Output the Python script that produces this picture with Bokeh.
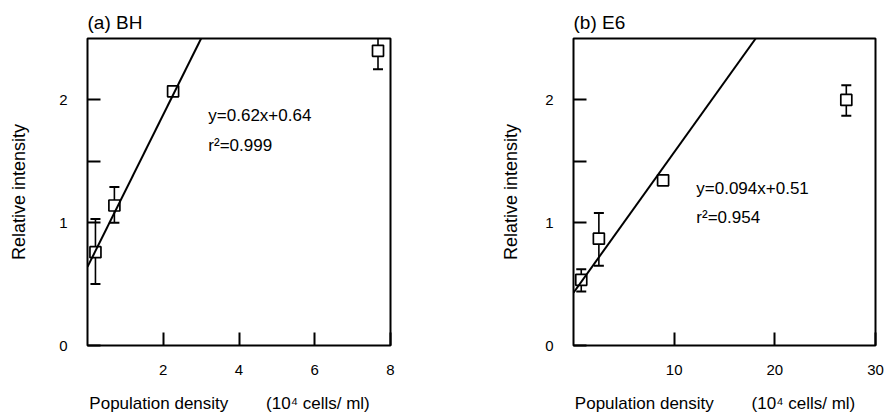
from bokeh.plotting import figure
from bokeh.models import FixedTicker, Range1d, Label, Whisker, ColumnDataSource, TeeHead
from bokeh.layouts import row
from bokeh.embed import file_html
from bokeh.resources import INLINE

FONT = "Liberation Sans"

# ---- data: panel (a) BH ----
a_title = "(a)  BH"
a_x = [0.21, 0.71, 2.26, 7.67]
a_y = [0.76, 1.14, 2.07, 2.40]
a_err_x = [0.21, 0.71, 7.67]
a_err_lo = [0.50, 1.00, 2.25]
a_err_hi = [1.03, 1.29, 2.55]
a_fit_x = [0.0, 3.0]
a_fit_y = [0.64, 2.5]
a_eq = "y=0.62x+0.64"
a_r2 = "r\u00b2=0.999"
a_xmax = 8
a_xticks = [2, 4, 6, 8]

# ---- data: panel (b) E6 ----
b_title = "(b)  E6"
b_x = [0.77, 2.52, 8.9, 27.1]
b_y = [0.535, 0.87, 1.345, 2.0]
b_err_x = [0.77, 2.52, 27.1]
b_err_lo = [0.44, 0.65, 1.87]
b_err_hi = [0.62, 1.08, 2.12]
b_fit_x = [0.0, 18.1]
b_fit_y = [0.43, 2.5]
b_eq = "y=0.094x+0.51"
b_r2 = "r\u00b2=0.954"
b_xmax = 30
b_xticks = [10, 20, 30]

y_max = 2.5
y_ticks = [0, 1, 2]
y_minor = [1.5]
NB = "\u00a0"
x_label = "Population density" + NB * 8 + "(10\u2074 cells/ ml)" + NB * 4
y_label = "Relative intensity"


def make_panel(title, xs, ys, ex, elo, ehi, fx, fy, xmax, xticks, eq, r2,
               eq_x, eq_y, r2_y, bl, br, ylab_standoff):
    p = figure(width=443, height=415, x_range=Range1d(0, xmax), y_range=Range1d(0, y_max),
               output_backend="svg", toolbar_location=None,
               min_border_left=bl, min_border_right=br, min_border_top=38, min_border_bottom=70)
    p.title.text = title
    p.title.text_font = FONT
    p.title.text_font_size = "19px"
    p.title.text_font_style = "normal"
    p.title.text_color = "black"
    p.title.align = "left"
    p.title.standoff = 12
    p.outline_line_color = "black"
    p.outline_line_width = 2
    p.outline_line_alpha = 1
    p.xgrid.visible = False
    p.ygrid.visible = False

    p.xaxis.ticker = FixedTicker(ticks=xticks, minor_ticks=[])
    p.yaxis.ticker = FixedTicker(ticks=y_ticks, minor_ticks=y_minor)
    for ax in (p.xaxis, p.yaxis):
        ax.axis_line_color = None
        ax.major_tick_in = 13
        ax.major_tick_out = 0
        ax.major_tick_line_width = 2
        ax.major_tick_line_color = "black"
        ax.major_label_text_font = FONT
        ax.major_label_text_font_size = "15px"
        ax.major_label_text_color = "black"
        ax.axis_label_text_font = FONT
        ax.axis_label_text_font_style = "normal"
        ax.axis_label_text_color = "black"
    p.xaxis.minor_tick_in = 0
    p.xaxis.minor_tick_out = 0
    p.yaxis.minor_tick_in = 13
    p.yaxis.minor_tick_out = 0
    p.yaxis.minor_tick_line_width = 2
    p.yaxis.minor_tick_line_color = "black"
    p.xaxis.major_label_standoff = 19
    p.yaxis.major_label_standoff = 20
    p.xaxis.axis_label = x_label
    p.xaxis.axis_label_text_font_size = "17px"
    p.xaxis.axis_label_standoff = 16
    p.yaxis.axis_label = y_label
    p.yaxis.axis_label_text_font_size = "18px"
    p.yaxis.axis_label_standoff = ylab_standoff

    src = ColumnDataSource(dict(base=ex, lower=elo, upper=ehi))
    w = Whisker(source=src, base="base", lower="lower", upper="upper",
                line_color="black", line_width=1.6,
                upper_head=TeeHead(size=10, line_width=2, line_color="black"),
                lower_head=TeeHead(size=10, line_width=2, line_color="black"))
    p.add_layout(w)
    p.scatter(xs, ys, marker="square", size=11, fill_color="white",
              line_color="black", line_width=1.7)
    p.line(fx, fy, line_color="black", line_width=2)

    for txt, yy in ((eq, eq_y), (r2, r2_y)):
        p.add_layout(Label(x=eq_x, y=yy, text=txt, text_font=FONT, text_font_size="17px",
                           text_baseline="middle", text_color="black"))
    return p


pa = make_panel(a_title, a_x, a_y, a_err_x, a_err_lo, a_err_hi, a_fit_x, a_fit_y,
                a_xmax, a_xticks, a_eq, a_r2, 3.19, 1.875, 1.63, 87, 53, 27)
pb = make_panel(b_title, b_x, b_y, b_err_x, b_err_lo, b_err_hi, b_fit_x, b_fit_y,
                b_xmax, b_xticks, b_eq, b_r2, 12.2, 1.28, 1.04, 130, 11, 21)

layout = row(pa, pb)
open("out.html", "w").write(file_html(layout, INLINE))
